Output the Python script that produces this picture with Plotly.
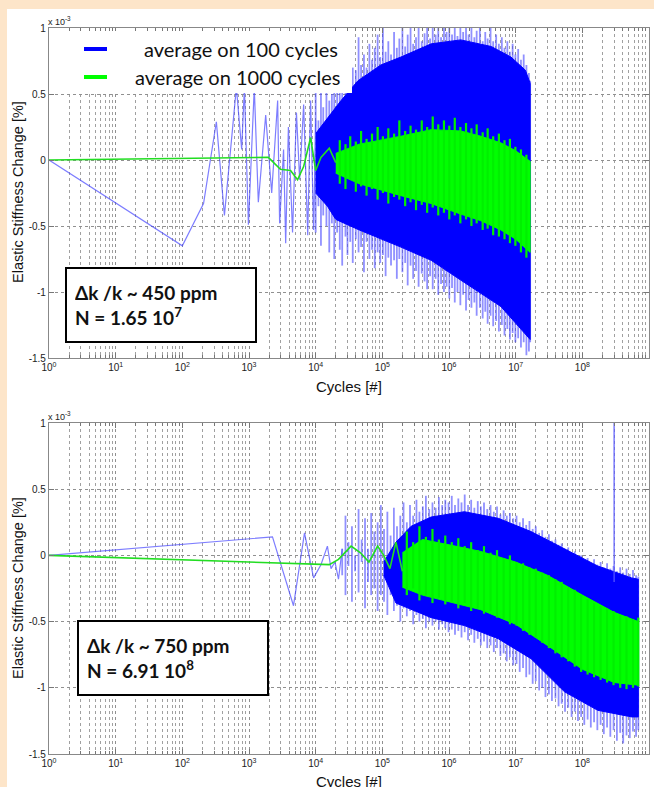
import plotly.graph_objects as go

W, H = 654, 787
PEACH = "#fde5c9"

# ---------------- data (values in units of 1e-3 %) ----------------
# Panel 1 : sparse early part of the 100-cycle and 1000-cycle averages
p1_blue_x = [1, 100, 208, 324, 428, 647, 776, 854, 980, 1200, 1380, 1780, 2190, 2690, 2880,
             3300, 3550, 3900, 4500, 5150, 5750, 6600, 7600, 8400, 9300, 10000]
p1_blue_y = [0, -0.65, -0.33, 0.29, -0.42, 0.55, 0.08, 0.55, -0.49, 0.55, -0.32, 0.34, -0.25, 0.45, -0.48,
             0.08, -0.63, 0.25, -0.55, 0.36, -0.15, 0.42, -0.57, 0.45, -0.53, 0.3]
p1_green_x = [1, 1950, 2960, 4200, 5350, 6600, 8400, 10000, 12000, 16000, 20000]
p1_green_y = [0, 0.02, -0.07, -0.08, -0.15, -0.05, 0.17, -0.08, 0.02, 0.09, -0.02]

# Panel 1 : per-bin max / min of the dense 100-cycle average
p1_spk_x = [1.0e4, 1.1e4, 1.2e4, 1.3e4, 1.45e4, 1.6e4, 1.75e4, 1.9e4,
            2.1e4, 2.3e4, 2.5e4, 2.8e4, 3.0e4, 3.3e4, 3.6e4, 4.0e4, 4.4e4, 4.8e4,
            5.3e4, 5.8e4, 6.4e4, 7.0e4, 7.7e4, 8.5e4, 9.3e4,
            1.02e5, 1.12e5, 1.23e5, 1.35e5, 1.5e5, 1.65e5, 1.8e5,
            2.0e5, 2.2e5, 2.4e5, 2.65e5, 2.9e5, 3.2e5, 3.5e5, 3.9e5, 4.3e5, 4.7e5,
            5.2e5, 5.7e5, 6.3e5, 6.9e5, 7.6e5, 8.4e5, 9.2e5,
            1.01e6, 1.11e6, 1.22e6, 1.34e6, 1.48e6, 1.63e6, 1.8e6, 1.97e6,
            2.17e6, 2.4e6, 2.6e6, 2.9e6, 3.2e6, 3.5e6, 3.8e6, 4.2e6, 4.6e6,
            5.1e6, 5.6e6, 6.2e6, 6.8e6, 7.5e6, 8.2e6, 9.0e6, 9.9e6,
            1.09e7, 1.2e7, 1.32e7, 1.45e7, 1.58e7, 1.65e7]
p1_spk_hi = [0.55, 0.3, 0.62, 0.4, 0.75, 0.45, 0.5, 0.7,
             0.6, 0.88, 0.55, 0.75, 0.62, 0.82, 0.7, 0.68, 0.93, 0.72,
             0.8, 0.7, 0.88, 0.76, 0.85, 0.95, 0.78,
             1.0, 0.82, 0.9, 0.8, 0.97, 0.85, 0.92,
             1.0, 0.86, 0.95, 1.0, 0.88, 0.93, 1.0, 0.9, 0.96, 1.0,
             0.92, 1.0, 0.95, 1.0, 0.93, 1.0, 0.97,
             1.0, 0.95, 1.0, 0.94, 1.0, 0.97, 1.0, 0.95,
             1.0, 0.93, 0.98, 1.0, 0.9, 0.97, 0.92, 1.0, 0.9,
             0.95, 0.88, 0.93, 0.85, 0.9, 0.82, 0.88, 0.8,
             0.84, 0.76, 0.8, 0.72, 0.66, 0.6]
p1_spk_lo = [-0.55, -0.35, -0.65, -0.42, -0.5, -0.7, -0.48, -0.75,
             -0.55, -0.68, -0.8, -0.58, -0.72, -0.62, -0.78, -0.6, -0.7, -0.66,
             -0.85, -0.62, -0.75, -0.68, -0.82, -0.7, -0.78,
             -0.72, -0.88, -0.74, -0.8, -0.76, -0.9, -0.75,
             -0.85, -0.78, -0.95, -0.8, -0.9, -0.84, -0.96, -0.86, -0.92, -0.98,
             -0.88, -0.98, -0.9, -1.02, -0.94, -1.0, -0.96,
             -1.05, -0.97, -1.08, -1.0, -1.1, -1.02, -1.14, -1.06,
             -1.12, -1.08, -1.18, -1.12, -1.2, -1.15, -1.24, -1.18, -1.26,
             -1.22, -1.3, -1.25, -1.33, -1.28, -1.36, -1.31, -1.38,
             -1.35, -1.42, -1.38, -1.48, -1.45, -1.38]

# Panel 1 : dense core of the 100-cycle average
p1_core_hi_x = [1e4, 1.5e4, 2.4e4, 4.3e4, 9.5e4, 1.9e5, 5.4e5, 1.5e6, 4.3e6, 8.5e6, 1.4e7, 1.65e7]
p1_core_hi_y = [0.2, 0.32, 0.45, 0.6, 0.72, 0.78, 0.88, 0.91, 0.86, 0.78, 0.68, 0.58]
p1_core_lo_x = [1e4, 1.5e4, 2e4, 4.5e4, 1.9e5, 5.4e5, 1.5e6, 6e6, 1.1e7, 1.65e7]
p1_core_lo_y = [-0.25, -0.35, -0.45, -0.53, -0.66, -0.76, -0.91, -1.11, -1.26, -1.36]

# Panel 1 : 1000-cycle average (core band + per-bin max/min)
p1_gcore_x = [2e4, 4.5e4, 1.9e5, 5.4e5, 1.5e6, 3e6, 6e6, 1e7, 1.65e7]
p1_gcore_hi = [0.05, 0.12, 0.18, 0.23, 0.22, 0.18, 0.13, 0.07, -0.01]
p1_gcore_lo = [-0.1, -0.18, -0.27, -0.33, -0.41, -0.46, -0.53, -0.6, -0.7]
p1_gspk_x = [2.3e4, 2.8e4, 3.3e4, 4.0e4, 4.8e4, 5.8e4, 7.0e4, 8.5e4, 1.02e5, 1.23e5, 1.5e5, 1.8e5,
             2.2e5, 2.65e5, 3.2e5, 3.9e5, 4.7e5, 5.7e5, 6.9e5, 8.4e5, 1.01e6, 1.22e6, 1.48e6, 1.8e6,
             2.17e6, 2.6e6, 3.2e6, 3.8e6, 4.6e6, 5.6e6, 6.8e6, 8.2e6, 9.9e6, 1.2e7, 1.45e7]
p1_gspk_hi = [0.15, 0.12, 0.18, 0.14, 0.22, 0.16, 0.2, 0.25, 0.18, 0.24, 0.2, 0.3,
              0.22, 0.26, 0.23, 0.3, 0.25, 0.33, 0.27, 0.3, 0.26, 0.32, 0.25, 0.28,
              0.24, 0.27, 0.21, 0.24, 0.18, 0.2, 0.15, 0.16, 0.1, 0.08, 0.04]
p1_gspk_lo = [-0.18, -0.22, -0.15, -0.24, -0.2, -0.27, -0.22, -0.3, -0.25, -0.33, -0.28, -0.3,
              -0.35, -0.32, -0.38, -0.34, -0.4, -0.36, -0.42, -0.4, -0.45, -0.42, -0.48, -0.45,
              -0.5, -0.48, -0.53, -0.52, -0.57, -0.58, -0.6, -0.63, -0.65, -0.7, -0.74]

# Panel 2 : sparse early part
p2_blue_x = [1, 2250, 4650, 6800, 9300, 12000, 15000, 17000, 19500, 22000, 25000]
p2_blue_y = [0, 0.14, -0.38, 0.17, -0.17, -0.07, 0.07, -0.1, -0.05, -0.18, 0.05]
p2_green_x = [1, 16000, 22000, 34000, 47000, 63000, 85000, 1.05e5, 1.3e5, 1.6e5, 2e5]
p2_green_y = [0, -0.07, -0.03, 0.07, 0.02, -0.05, 0.07, 0.0, -0.1, 0.1, -0.12]
p2_outlier_x = [3.0e8, 3.0e8]
p2_outlier_y = [-0.2, 1.0]

# Panel 2 : per-bin max / min of the 100-cycle average
p2_spk_x = [2.5e4, 2.8e4, 3.1e4, 3.5e4, 3.9e4, 4.4e4, 4.9e4, 5.5e4, 6.1e4, 6.8e4, 7.6e4, 8.5e4, 9.5e4,
            1.06e5, 1.19e5, 1.33e5, 1.49e5, 1.66e5, 1.86e5, 2.08e5, 2.33e5, 2.6e5, 2.9e5, 3.25e5,
            3.6e5, 4.05e5, 4.5e5, 5.05e5, 5.65e5, 6.3e5, 7.05e5, 7.9e5, 8.8e5, 9.85e5,
            1.1e6, 1.23e6, 1.38e6, 1.54e6, 1.72e6, 1.93e6, 2.15e6, 2.4e6, 2.7e6, 3.0e6, 3.35e6,
            3.75e6, 4.2e6, 4.7e6, 5.25e6, 5.9e6, 6.6e6, 7.35e6, 8.2e6, 9.2e6,
            1.03e7, 1.15e7, 1.29e7, 1.44e7, 1.61e7, 1.8e7, 2.0e7, 2.25e7, 2.5e7, 2.8e7, 3.15e7,
            3.5e7, 3.95e7, 4.4e7, 4.9e7, 5.5e7, 6.15e7, 6.9e7, 7.7e7, 8.6e7, 9.6e7,
            1.07e8, 1.2e8, 1.34e8, 1.5e8, 1.68e8, 1.88e8, 2.1e8, 2.35e8, 2.63e8, 2.94e8, 3.3e8,
            3.7e8, 4.1e8, 4.6e8, 5.15e8, 5.75e8, 6.4e8, 6.91e8]
p2_spk_hi = [0.05, 0.3, 0.1, 0.22, 0.0, 0.35, 0.12, 0.28, 0.05, 0.32, 0.18, 0.25, 0.38,
             0.2, 0.33, 0.15, 0.36, 0.22, 0.3, 0.4, 0.25, 0.38, 0.3, 0.42,
             0.33, 0.37, 0.45, 0.35, 0.4, 0.36, 0.44, 0.38, 0.42, 0.4,
             0.45, 0.38, 0.43, 0.4, 0.46, 0.38, 0.42, 0.36, 0.41, 0.37, 0.4,
             0.35, 0.38, 0.33, 0.37, 0.31, 0.34, 0.3, 0.32, 0.28,
             0.3, 0.25, 0.28, 0.23, 0.26, 0.2, 0.22, 0.17, 0.19, 0.14, 0.16,
             0.11, 0.12, 0.08, 0.09, 0.05, 0.06, 0.02, 0.03, -0.01, 0.0,
             -0.04, -0.02, -0.06, -0.03, -0.07, -0.05, -0.09, -0.06, -0.1, -0.08, -0.12,
             -0.09, -0.13, -0.1, -0.14, -0.11, -0.15, -0.16]
p2_spk_lo = [-0.15, -0.3, -0.08, -0.35, -0.12, -0.28, -0.05, -0.4, -0.2, -0.3, -0.25, -0.42, -0.3,
             -0.35, -0.45, -0.3, -0.42, -0.38, -0.5, -0.4, -0.46, -0.42, -0.52, -0.45,
             -0.5, -0.48, -0.55, -0.5, -0.53, -0.5, -0.56, -0.52, -0.55, -0.58,
             -0.56, -0.6, -0.57, -0.62, -0.58, -0.64, -0.6, -0.66, -0.63, -0.68, -0.65,
             -0.7, -0.68, -0.73, -0.7, -0.76, -0.74, -0.8, -0.77, -0.83,
             -0.82, -0.88, -0.85, -0.92, -0.9, -0.97, -0.95, -1.02, -1.0, -1.07, -1.05,
             -1.1, -1.08, -1.14, -1.12, -1.18, -1.15, -1.22, -1.18, -1.25, -1.22,
             -1.28, -1.24, -1.3, -1.26, -1.32, -1.28, -1.35, -1.3, -1.37, -1.32, -1.4,
             -1.34, -1.42, -1.36, -1.38, -1.33, -1.37, -1.32]

# Panel 2 : dense core of the 100-cycle average
p2_core_hi_x = [1.05e5, 1.6e5, 2.7e5, 5.4e5, 1.7e6, 5.5e6, 1.7e7, 5.4e7, 1.7e8, 5.5e8, 6.91e8]
p2_core_hi_y = [-0.05, 0.1, 0.22, 0.29, 0.33, 0.28, 0.18, 0.05, -0.08, -0.17, -0.18]
p2_core_lo_x = [1.05e5, 1.6e5, 5.4e5, 1.7e6, 5.5e6, 1.7e7, 5.4e7, 1.7e8, 5.5e8, 6.91e8]
p2_core_lo_y = [-0.15, -0.36, -0.47, -0.53, -0.63, -0.78, -1.03, -1.17, -1.22, -1.22]

# Panel 2 : 1000-cycle average
p2_gcore_x = [2e5, 4e5, 1e6, 3e6, 1e7, 3e7, 1e8, 3e8, 6.91e8]
p2_gcore_hi = [0.02, 0.12, 0.08, 0.03, -0.05, -0.15, -0.3, -0.43, -0.5]
p2_gcore_lo = [-0.24, -0.3, -0.35, -0.41, -0.52, -0.68, -0.86, -0.96, -0.98]
p2_gspk_x = [2.33e5, 2.9e5, 3.6e5, 4.5e5, 5.65e5, 7.05e5, 8.8e5, 1.1e6, 1.38e6, 1.72e6, 2.15e6, 2.7e6,
             3.35e6, 4.2e6, 5.25e6, 6.6e6, 8.2e6, 1.03e7, 1.29e7, 1.61e7, 2.0e7, 2.5e7, 3.15e7, 3.95e7,
             4.9e7, 6.15e7, 7.7e7, 9.6e7, 1.2e8, 1.5e8, 1.88e8, 2.35e8, 2.94e8, 3.7e8, 4.6e8, 5.75e8, 6.91e8]
p2_gspk_hi = [0.18, 0.1, 0.22, 0.14, 0.2, 0.12, 0.15, 0.1, 0.13, 0.07, 0.1, 0.04,
              0.07, 0.02, 0.04, -0.02, 0.0, -0.05, -0.06, -0.09, -0.1, -0.13, -0.15, -0.18,
              -0.2, -0.24, -0.26, -0.3, -0.33, -0.36, -0.38, -0.4, -0.42, -0.45, -0.46, -0.48, -0.47]
p2_gspk_lo = [-0.3, -0.25, -0.34, -0.3, -0.36, -0.32, -0.37, -0.35, -0.4, -0.36, -0.42, -0.4,
              -0.44, -0.42, -0.47, -0.48, -0.52, -0.53, -0.57, -0.6, -0.62, -0.66, -0.7, -0.74,
              -0.77, -0.8, -0.84, -0.88, -0.9, -0.92, -0.94, -0.96, -0.98, -1.0, -1.01, -1.0, -0.99]

x_tickvals = [1, 10, 100, 1e3, 1e4, 1e5, 1e6, 1e7, 1e8, 1e9]
x_ticktext = ["10<sup>%d</sup>" % i for i in range(10)]
y_tickvals = [-1.5, -1, -0.5, 0, 0.5, 1]
y_ticktext = ["-1.5", "-1", "-0.5", "0", "0.5", "1"]

legend_labels = ["average on 100 cycles", "average on 1000 cycles"]
box_texts = ["<b>\u0394k /k ~ 450 ppm<br>N = 1.65 10<sup>7</sup></b>",
             "<b>\u0394k /k ~ 750 ppm<br>N = 6.91 10<sup>8</sup></b>"]

BLUE = "#0000ff"
GREEN = "#00ff00"


def px(x):
    return x / W


def py(y):
    return 1 - y / H


def poly(hx, hy, lx, ly):
    return list(hx) + list(reversed(lx)), list(hy) + list(reversed(ly))


def segments(xs, his, los):
    sx, sy = [], []
    for x, h, l in zip(xs, his, los):
        sx += [x, x, None]
        sy += [h, l, None]
    return sx, sy


fig = go.Figure()


def add_panel(xa, ya, spk, core, gcore, gspk, bline, gline, extra=None):
    kw = dict(xaxis=xa, yaxis=ya, showlegend=False, hoverinfo="skip")
    sx, sy = segments(*spk)
    fig.add_trace(go.Scatter(x=sx, y=sy, mode="lines", line=dict(color="rgba(70,70,255,0.6)", width=1.8),
                             connectgaps=False, **kw))
    cx, cy = poly(*core)
    fig.add_trace(go.Scatter(x=cx, y=cy, mode="lines", fill="toself", fillcolor=BLUE,
                             line=dict(color=BLUE, width=1), **kw))
    fig.add_trace(go.Scatter(x=bline[0], y=bline[1], mode="lines",
                             line=dict(color="rgba(70,70,255,0.7)", width=1.2), **kw))
    if extra is not None:
        fig.add_trace(go.Scatter(x=extra[0], y=extra[1], mode="lines",
                                 line=dict(color="rgba(90,90,255,0.8)", width=1.5), **kw))
    gx, gy = poly(gcore[0], gcore[1], gcore[0], gcore[2])
    fig.add_trace(go.Scatter(x=gx, y=gy, mode="lines", fill="toself", fillcolor=GREEN,
                             line=dict(color=GREEN, width=1), **kw))
    gsx, gsy = segments(*gspk)
    fig.add_trace(go.Scatter(x=gsx, y=gsy, mode="lines", line=dict(color="#00f000", width=2.2),
                             connectgaps=False, **kw))
    fig.add_trace(go.Scatter(x=gline[0], y=gline[1], mode="lines",
                             line=dict(color="#22dd22", width=1.6), **kw))


add_panel("x", "y",
          (p1_spk_x, p1_spk_hi, p1_spk_lo),
          (p1_core_hi_x, p1_core_hi_y, p1_core_lo_x, p1_core_lo_y),
          (p1_gcore_x, p1_gcore_hi, p1_gcore_lo),
          (p1_gspk_x, p1_gspk_hi, p1_gspk_lo),
          (p1_blue_x, p1_blue_y), (p1_green_x, p1_green_y))
add_panel("x2", "y2",
          (p2_spk_x, p2_spk_hi, p2_spk_lo),
          (p2_core_hi_x, p2_core_hi_y, p2_core_lo_x, p2_core_lo_y),
          (p2_gcore_x, p2_gcore_hi, p2_gcore_lo),
          (p2_gspk_x, p2_gspk_hi, p2_gspk_lo),
          (p2_blue_x, p2_blue_y), (p2_green_x, p2_green_y),
          extra=(p2_outlier_x, p2_outlier_y))

X0, X1 = px(49), px(649)
P1 = (py(358), py(28))
P2 = (py(754), py(423))

tickfont = dict(family="Liberation Sans, Arial, sans-serif", size=10, color="#222")


def xaxis(anchor):
    return dict(type="log", domain=[X0, X1], anchor=anchor, range=[0, 9], automargin=False,
                tickvals=x_tickvals, ticktext=x_ticktext, tickfont=tickfont,
                ticks="inside", ticklen=5, tickcolor="#777", mirror="allticks",
                showline=True, linecolor="#888", linewidth=1.2,
                showgrid=True, gridcolor="#909090", griddash="dot", gridwidth=1,
                minor=dict(dtick="D1", ticks="inside", ticklen=3, tickcolor="#777",
                           showgrid=True, gridcolor="#a0a0a0", griddash="dot", gridwidth=1),
                zeroline=False)


def yaxis(domain, anchor):
    return dict(domain=list(domain), anchor=anchor, range=[-1.5, 1], automargin=False,
                tickvals=y_tickvals, ticktext=y_ticktext, tickfont=tickfont,
                ticks="inside", ticklen=5, tickcolor="#777", mirror="allticks",
                showline=True, linecolor="#888", linewidth=1.2, zeroline=False,
                showgrid=True, gridcolor="#909090", griddash="dot", gridwidth=1)


shapes = [
    # peach frame strips (left and top) on a white page
    dict(type="rect", xref="paper", yref="paper", x0=0, x1=px(7), y0=0, y1=1,
         fillcolor=PEACH, line=dict(width=0), layer="below"),
    dict(type="rect", xref="paper", yref="paper", x0=0, x1=1, y0=py(9), y1=1,
         fillcolor=PEACH, line=dict(width=0), layer="below"),
    # legend background (covers data)
    dict(type="rect", xref="paper", yref="paper", x0=px(51), x1=px(352), y0=py(93), y1=py(31),
         fillcolor="white", line=dict(width=0), layer="above"),
    dict(type="line", xref="paper", yref="paper", x0=px(84), x1=px(107), y0=py(49), y1=py(49),
         line=dict(color=BLUE, width=4), layer="above"),
    dict(type="line", xref="paper", yref="paper", x0=px(84), x1=px(107), y0=py(77), y1=py(77),
         line=dict(color=GREEN, width=4), layer="above"),
]

labfont = dict(family="Liberation Sans, Arial, sans-serif", size=15, color="#111")
ylabfont = dict(family="Liberation Sans, Arial, sans-serif", size=14.5, color="#111")
calib = "Lato, Open Sans, sans-serif"
annotations = [
    dict(text=legend_labels[0], xref="paper", yref="paper", x=px(340), y=py(49), xanchor="right",
         yanchor="middle", showarrow=False, font=dict(family=calib, size=20, color="#111")),
    dict(text=legend_labels[1], xref="paper", yref="paper", x=px(343), y=py(77), xanchor="right",
         yanchor="middle", showarrow=False, font=dict(family=calib, size=20, color="#111")),
    dict(text=box_texts[0], xref="paper", yref="paper", x=px(65), y=py(267), xanchor="left",
         yanchor="top", showarrow=False, align="left", bgcolor="white", bordercolor="black",
         borderwidth=2, borderpad=8, width=172, height=56,
         font=dict(family=calib, size=19, color="#111")),
    dict(text=box_texts[1], xref="paper", yref="paper", x=px(77), y=py(620), xanchor="left",
         yanchor="top", showarrow=False, align="left", bgcolor="white", bordercolor="black",
         borderwidth=2, borderpad=8, width=172, height=56,
         font=dict(family=calib, size=19, color="#111")),
    dict(text="Cycles [#]", xref="paper", yref="paper", x=px(349), y=py(386), xanchor="center",
         yanchor="middle", showarrow=False, font=labfont),
    dict(text="Cycles [#]", xref="paper", yref="paper", x=px(349), y=py(781), xanchor="center",
         yanchor="middle", showarrow=False, font=labfont),
    dict(text="Elastic Stiffness Change [%]", xref="paper", yref="paper", x=px(18), y=py(192),
         xanchor="center", yanchor="middle", textangle=-90, showarrow=False, font=ylabfont),
    dict(text="Elastic Stiffness Change [%]", xref="paper", yref="paper", x=px(18), y=py(588),
         xanchor="center", yanchor="middle", textangle=-90, showarrow=False, font=ylabfont),
    dict(text="x 10<sup>-3</sup>", xref="paper", yref="paper", x=px(46), y=py(21), xanchor="left",
         yanchor="middle", showarrow=False, font=dict(family="Liberation Sans, Arial", size=9, color="#222")),
    dict(text="x 10<sup>-3</sup>", xref="paper", yref="paper", x=px(46), y=py(416), xanchor="left",
         yanchor="middle", showarrow=False, font=dict(family="Liberation Sans, Arial", size=9, color="#222")),
]

fig.update_layout(
    width=W, height=H, margin=dict(l=0, r=0, t=0, b=0),
    paper_bgcolor="white", plot_bgcolor="white",
    xaxis=xaxis("y"), yaxis=yaxis(P1, "x"),
    xaxis2=xaxis("y2"), yaxis2=yaxis(P2, "x2"),
    shapes=shapes, annotations=annotations, showlegend=False,
)

page_js = ("document.body.style.margin='0';document.body.style.overflow='hidden';"
           "document.body.style.background='transparent';"
           "document.documentElement.style.background="
           "'linear-gradient(%s 0px, %s 9px, white 9px, white 100%%)';" % (PEACH, PEACH))

fig.write_html("out.html", config={"displayModeBar": False}, post_script=page_js)
